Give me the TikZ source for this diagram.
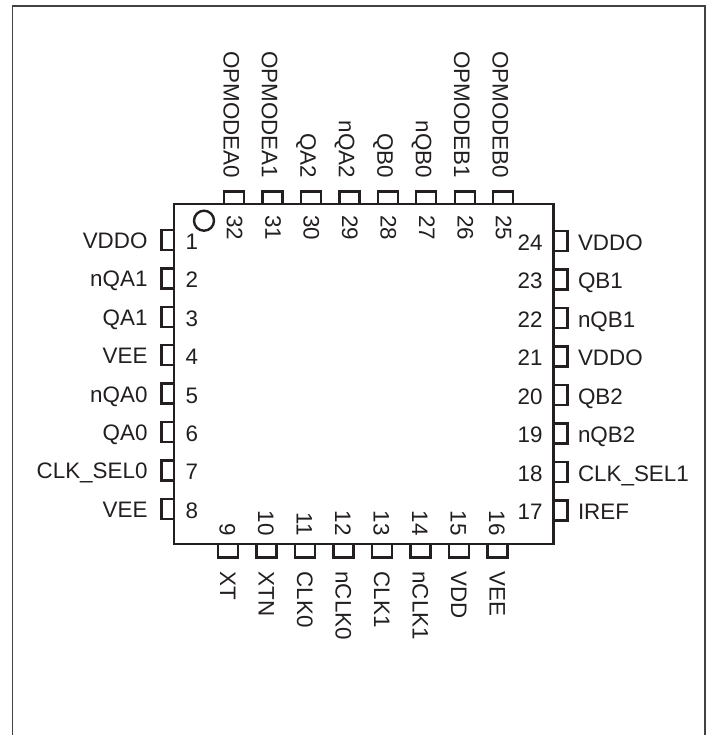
\documentclass[tikz,border=0pt]{standalone}
\usepackage{fontspec}
\setmainfont{Liberation Sans}
\definecolor{ink}{HTML}{231F20}
\tikzset{
  lbl/.style={inner sep=0pt,outer sep=0pt,text=ink,font=\fontsize{22.4}{24}\selectfont},
  pinbox/.style={draw=ink,line width=2.4pt,line join=miter},
}
\begin{document}
\begin{tikzpicture}[x=1pt,y=-1pt]
\useasboundingbox (0,0) rectangle (711,735);
% outer frame, open at the bottom
\draw[ink!85,line width=1.5pt] (12.7,735) -- (12.7,6) -- (705,6) -- (705,735);
% left side
\foreach \n/\t [count=\i from 0] in {1/VDDO,2/nQA1,3/QA1,4/VEE,5/nQA0,6/QA0,7/CLK\_SEL0,8/VEE}{
  \pgfmathsetmacro{\y}{240+38.4*\i}
  \draw[pinbox] (174,\y-10) -- (161.5,\y-10) -- (161.5,\y+10) -- (174,\y+10);
  \node[lbl,anchor=base east] (L\n) at (147.5,\y+8.5) {\t};
  \node[lbl,anchor=base west] (N\n) at (185.5,\y+9.5) {\n};
}
% right side
\foreach \n/\t [count=\i from 0] in {24/VDDO,23/QB1,22/nQB1,21/VDDO,20/QB2,19/nQB2,18/CLK\_SEL1,17/IREF}{
  \pgfmathsetmacro{\y}{241+38.5*\i}
  \draw[pinbox] (554,\y-10) -- (567.5,\y-10) -- (567.5,\y+10) -- (554,\y+10);
  \node[lbl,anchor=base west] (L\n) at (578,\y+9) {\t};
  \node[lbl,anchor=base east] (N\n) at (542.5,\y+9) {\n};
}
% top side
\foreach \n/\t [count=\i from 0] in {32/OPMODEA0,31/OPMODEA1,30/QA2,29/nQA2,28/QB0,27/nQB0,26/OPMODEB1,25/OPMODEB0}{
  \pgfmathsetmacro{\x}{234+38.45*\i}
  \draw[pinbox] (\x-10,204) -- (\x-10,191.5) -- (\x+10,191.5) -- (\x+10,204);
  \node[lbl,rotate=-90,anchor=base east] (L\n) at (\x-10.5,178) {\t};
  \node[lbl,rotate=-90,anchor=base west] (N\n) at (\x-7.2,215.5) {\n};
}
% bottom side
\foreach \n/\t [count=\i from 0] in {9/XT,10/XTN,11/CLK0,12/nCLK0,13/CLK1,14/nCLK1,15/VDD,16/VEE}{
  \pgfmathsetmacro{\x}{228+38.5*\i}
  \draw[pinbox] (\x-10,544) -- (\x-10,557.5) -- (\x+10,557.5) -- (\x+10,544);
  \node[lbl,rotate=-90,anchor=base west] (L\n) at (\x-8,571.5) {\t};
  \node[lbl,rotate=-90,anchor=base east] (N\n) at (\x-8.5,535.5) {\n};
}
% package body and pin-1 mark
\draw[ink,line width=2.5pt] (174,204) rectangle (553.7,544);
\node[draw=ink,line width=2.4pt,circle,minimum size=20pt,inner sep=0pt] (mark) at (204,220.7) {};
\end{tikzpicture}
\end{document}
